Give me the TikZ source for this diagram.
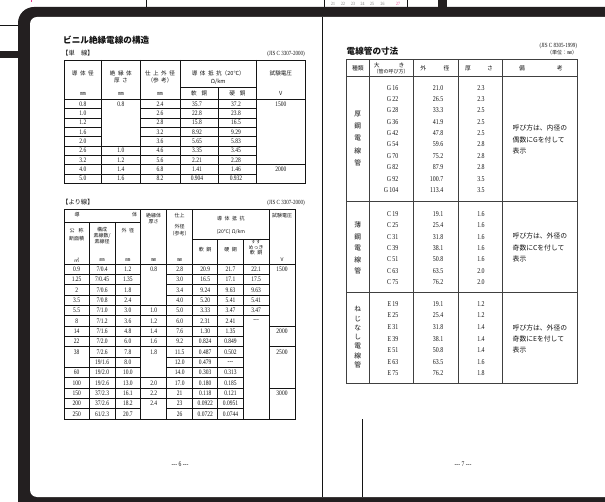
\documentclass[tikz,border=0pt]{standalone}
\usepackage{fontspec}
\setmainfont{Liberation Serif}
\newfontfamily\numf[FakeStretch=0.8]{Liberation Serif}
\newfontfamily\jp{Noto Sans CJK JP}
\definecolor{ink}{gray}{0.08}
\definecolor{framec}{HTML}{231F20}
\definecolor{pinkc}{HTML}{E8388F}
\newcommand\jg{\hspace{2.5pt}}
\tikzset{
  tline/.style={line width=0.65pt, draw=ink},
  rline/.style={line width=0.9pt, draw=black!75},
  rthick/.style={line width=1.4pt, draw=black!75},
  num/.style={font={\numf\fontsize{6.9}{7}\selectfont}, inner sep=0pt, text=ink},
  jh/.style={font={\jp\fontsize{5.6}{6}\selectfont}, inner sep=0pt, text=ink},
  jhs/.style={font={\jp\fontsize{5}{5}\selectfont}, inner sep=0pt, text=ink},
  ttl/.style={font={\jp\bfseries\fontsize{8.6}{9}\selectfont}, inner sep=0pt, text=ink},
  lab/.style={font={\jp\fontsize{6.3}{7}\selectfont}, inner sep=0pt, text=ink},
  jis/.style={font={\numf\fontsize{6.3}{6}\selectfont}, inner sep=0pt, text=ink},
  rnum/.style={font={\numf\fontsize{7.4}{8}\selectfont}, inner sep=0pt, text=ink},
  rjp/.style={font={\jp\fontsize{6.8}{8}\selectfont}, inner sep=0pt, text=ink},
  rjh/.style={font={\jp\fontsize{5.8}{6}\selectfont}, inner sep=0pt, text=ink},
  topnum/.style={font={\numf\fontsize{4.8}{5}\selectfont}, inner sep=0pt, text=black!55},
  pgnum/.style={font={\numf\fontsize{7}{8}\selectfont}, inner sep=0pt, text=ink},
}
\begin{document}
\begin{tikzpicture}[x=1pt,y=-1pt]
\useasboundingbox (0,0) rectangle (605,502);
\clip (0,0) rectangle (605,502);
\fill[white] (0,0) rectangle (605,502);
% ---- frame
\fill[framec, rounded corners=16pt] (18,540) -- (18,7) -- (640,7) -- (640,540) -- cycle;
\fill[white, rounded corners=7pt] (30,497) -- (30,17) -- (640,17) -- (640,497) -- cycle;
% ---- top strip and margin marks
\draw[ink, line width=0.5pt] (146,0) -- (146,7);
\draw[ink, line width=0.5pt] (324,0) -- (324,7);
\draw[ink, line width=0.5pt] (407,0) -- (407,7);
\fill[framec] (438,0) rectangle (447,8);
\draw[ink, line width=0.5pt] (0,25) -- (18,25);
\fill[framec] (0,51) rectangle (18,58);
\draw[pinkc, line width=1pt] (31,0) -- (31,2.5);
\foreach \n/\x in {21/333,22/343,23/353,24/362.5,25/372,26/382.5}
  \node[topnum] (tn\n) at (\x,3.5) {\n};
\node[topnum, text=pinkc] (tn27) at (398,3.5) {27};
% ---- page dividers
\draw[ink, line width=0.8pt] (322,17) -- (322,497);
\draw[ink, line width=0.8pt] (362,419) -- (362,497);
% ---- page numbers
\node[pgnum] (pg6) at (180,464) {--- 6 ---};
\node[pgnum] (pg7) at (463,464) {--- 7 ---};

% =============== LEFT PAGE ===============
\node[ttl, anchor=west] (t1title) at (63,40.5) {ビニル絶縁電線の構造};
\node[lab, anchor=west] (t1lab) at (62,53) {【単　線】};
\node[jis, anchor=east] (t1jis) at (305,53.5) {(JIS C 3307-2000)};
% table 1 lines
\draw[tline] (64,60) rectangle (305,183.2);
\foreach \x in {101.7,140,180,256.7} \draw[tline] (\x,60) -- (\x,183.2);
\draw[tline] (218.3,87.5) -- (218.3,183.2);
\draw[tline] (180,87.5) -- (256.7,87.5);
\draw[tline, line width=0.9pt] (64,99.5) -- (305,99.5);
\foreach \k in {1,...,8} {
  \draw[tline] (64,{99.5+\k*9.3}) -- (101.7,{99.5+\k*9.3});
  \draw[tline] (140,{99.5+\k*9.3}) -- (256.7,{99.5+\k*9.3});
}
\foreach \k in {5,...,8} \draw[tline] (101.7,{99.5+\k*9.3}) -- (140,{99.5+\k*9.3});
\draw[tline] (256.7,{99.5+7*9.3}) -- (305,{99.5+7*9.3});
% table 1 header
\node[jh] (h1a) at (82.85,73.3) {導\jg 体\jg 径};
\node[jh] (h1b) at (82.85,93.5) {㎜};
\node[jh] (h2a) at (120.85,73.3) {絶\jg 縁\jg 体};
\node[jh] (h2b) at (120.85,80.3) {厚\jg さ};
\node[jh] (h2c) at (120.85,93.5) {㎜};
\node[jh] (h3a) at (160,73.3) {仕\jg 上\jg 外\jg 径};
\node[jh] (h3b) at (160,80.3) {（参\jg 考）};
\node[jh] (h3c) at (160,93.5) {㎜};
\node[jh] (h4a) at (218.3,73.3) {導\jg 体\jg 抵\jg 抗（20℃）};
\node[jh] (h4b) at (218.3,81.5) {Ω/km};
\node[jh] (h4c) at (199.2,93.5) {軟\hspace{5pt}銅};
\node[jh] (h5c) at (237.5,93.5) {硬\hspace{5pt}銅};
\node[jh] (h6a) at (280.85,73.3) {試験電圧};
\node[jh] (h6b) at (280.85,93.5) {V};
% table 1 data
\foreach \v [count=\r] in {0.8,1.0,1.2,1.6,2.0,2.6,3.2,4.0,5.0}
  \node[num] (a1-\r) at (82.85,{99.5+(\r-0.5)*9.3}) {\v};
\foreach \v [count=\r] in {2.4,2.6,2.8,3.2,3.6,4.6,5.6,6.8,8.2}
  \node[num] (a3-\r) at (160,{99.5+(\r-0.5)*9.3}) {\v};
\foreach \v [count=\r] in {35.7,22.8,15.8,8.92,5.65,3.35,2.21,1.41,0.904}
  \node[num] (a4-\r) at (197,{99.5+(\r-0.5)*9.3}) {\v};
\foreach \v [count=\r] in {37.2,23.8,16.5,9.29,5.83,3.45,2.28,1.46,0.932}
  \node[num] (a5-\r) at (236,{99.5+(\r-0.5)*9.3}) {\v};
\foreach \v/\r in {0.8/1,1.0/6,1.2/7,1.4/8,1.6/9}
  \node[num] (a2-\r) at (120.85,{99.5+(\r-0.5)*9.3}) {\v};
\node[num] (a6-1) at (280.85,{99.5+0.5*9.3}) {1500};
\node[num] (a6-8) at (280.85,{99.5+7.5*9.3}) {2000};

% table 2
\node[lab, anchor=west] (t2lab) at (62,202) {【より線】};
\node[jis, anchor=east] (t2jis) at (305,202.5) {(JIS C 3307-2000)};
\draw[tline] (64,209.5) rectangle (295,419);
\draw[tline] (64,222) -- (140.7,222);
\draw[tline] (192.7,239.5) -- (269,239.5);
\draw[tline, line width=0.9pt] (64,264) -- (295,264);
\foreach \x in {89.3,115} \draw[tline] (\x,222) -- (\x,419);
\foreach \x in {140.7,166.7,192.7,269} \draw[tline] (\x,209.5) -- (\x,419);
\foreach \x in {217.7,243.3} \draw[tline] (\x,239.5) -- (\x,419);
\foreach \k in {1,...,14} {
  \draw[tline] (89.3,{264+\k*10.333}) -- (140.7,{264+\k*10.333});
  \draw[tline] (166.7,{264+\k*10.333}) -- (243.3,{264+\k*10.333});
}
\foreach \k in {1,...,8,10,11,12,13,14} \draw[tline] (64,{264+\k*10.333}) -- (89.3,{264+\k*10.333});
\foreach \k in {4,5,6,7,8,11,12,13} \draw[tline] (140.7,{264+\k*10.333}) -- (166.7,{264+\k*10.333});
\foreach \k in {1,...,5} \draw[tline] (243.3,{264+\k*10.333}) -- (269,{264+\k*10.333});
\foreach \k in {6,8,12} \draw[tline] (269,{264+\k*10.333}) -- (295,{264+\k*10.333});
% table 2 header
\node[jhs] (b0a) at (77,215) {導};
\node[jhs] (b0b) at (134.5,215) {体};
\node[jhs] (b1a) at (76.65,230.5) {公\hspace{4pt}称};
\node[jhs] (b1b) at (76.65,238.5) {断面積};
\node[jhs] (b1c) at (76.65,260) {㎡};
\node[jhs] (b2a) at (102.15,229.5) {構成};
\node[jhs] (b2b) at (102.15,235.5) {素線数/};
\node[jhs] (b2c) at (102.15,241.5) {素線径};
\node[jhs] (b2d) at (102.15,260) {㎜};
\node[jhs] (b3a) at (127.85,230.5) {外\jg 径};
\node[jhs] (b3b) at (127.85,260) {㎜};
\node[jhs] (b4a) at (153.7,215.5) {絶縁体};
\node[jhs] (b4b) at (153.7,221.5) {厚さ};
\node[jhs] (b4c) at (153.7,260) {㎜};
\node[jhs] (b5a) at (179.7,215.5) {仕上};
\node[jhs] (b5b) at (179.7,227) {外径};
\node[jhs] (b5c) at (179.7,233.3) {（参考）};
\node[jhs] (b5d) at (179.7,260) {㎜};
\node[jhs] (b6a) at (230.85,218.3) {導\jg 体\jg 抵\jg 抗};
\node[jhs] (b6b) at (230.85,231.5) {(20℃) Ω/km};
\node[jhs] (b6c) at (205.2,250) {軟\jg 銅};
\node[jhs] (b7c) at (230.5,250) {硬\jg 銅};
\node[jhs] (b8a) at (256.15,242) {すず};
\node[jhs] (b8b) at (256.15,247.3) {めっき};
\node[jhs] (b8c) at (256.15,252.7) {軟\jg 銅};
\node[jhs] (b9a) at (282,216) {試験電圧};
\node[jhs] (b9b) at (282,260) {V};
% table 2 data
\foreach \v [count=\r] in {0.9,1.25,2,3.5,5.5,8,14,22,38}
  \node[num] (c1-\r) at (76.65,{264+(\r-0.5)*10.333}) {\v};
\foreach \v/\r in {60/11,100/12,150/13,200/14,250/15}
  \node[num] (c1-\r) at (76.65,{264+(\r-0.5)*10.333}) {\v};
\foreach \v [count=\r] in {{7/0.4},{7/0.45},{7/0.6},{7/0.8},{7/1.0},{7/1.2},{7/1.6},{7/2.0},{7/2.6},{19/1.6},{19/2.0},{19/2.6},{37/2.3},{37/2.6},{61/2.3}}
  \node[num] (c2-\r) at (102.15,{264+(\r-0.5)*10.333}) {\v};
\foreach \v [count=\r] in {1.2,1.35,1.8,2.4,3.0,3.6,4.8,6.0,7.8,8.0,10.0,13.0,16.1,18.2,20.7}
  \node[num] (c3-\r) at (127.85,{264+(\r-0.5)*10.333}) {\v};
\foreach \v/\r in {0.8/1,1.0/5,1.2/6,1.4/7,1.6/8,1.8/9,2.0/12,2.2/13,2.4/14}
  \node[num] (c4-\r) at (153.7,{264+(\r-0.5)*10.333}) {\v};
\foreach \v [count=\r] in {2.8,3.0,3.4,4.0,5.0,6.0,7.6,9.2,11.5,12.0,14.0,17.0,21,23,26}
  \node[num] (c5-\r) at (179.7,{264+(\r-0.5)*10.333}) {\v};
\foreach \v [count=\r] in {20.9,16.5,9.24,5.20,3.33,2.31,1.30,0.824,0.487,0.479,0.303,0.180,0.118,0.0922,0.0722}
  \node[num] (c6-\r) at (205.2,{264+(\r-0.5)*10.333}) {\v};
\foreach \v [count=\r] in {21.7,17.1,9.63,5.41,3.47,2.41,1.35,0.849,0.502,---,0.313,0.185,0.121,0.0951,0.0744}
  \node[num] (c7-\r) at (230.5,{264+(\r-0.5)*10.333}) {\v};
\foreach \v [count=\r] in {22.1,17.5,9.63,5.41,3.47,---}
  \node[num] (c8-\r) at (256.15,{264+(\r-0.5)*10.333}) {\v};
\foreach \v/\r in {1500/1,2000/7,2500/9,3000/13}
  \node[num] (c9-\r) at (282,{264+(\r-0.5)*10.333}) {\v};

% =============== RIGHT PAGE ===============
\node[ttl, anchor=west] (rtitle) at (346.5,51) {電線管の寸法};
\node[jis, anchor=east] (rjis) at (577.3,46) {(JIS C 8305-1999)};
\node[jhs, anchor=east] (runit) at (577.3,52.8) {（単位：㎜）};
\draw[rline] (369,59.3) -- (369,383.3);
\draw[rline] (413.3,59.3) -- (413.3,383.3);
\draw[rline] (458.3,59.3) -- (458.3,383.3);
\draw[rline] (502.7,59.3) -- (502.7,383.3);
\draw[rthick] (346.7,76.7) -- (577.3,76.7);
\draw[rthick] (346.7,201.7) -- (577.3,201.7);
\draw[rthick] (346.7,292.7) -- (577.3,292.7);
\draw[rthick] (346.7,59.3) rectangle (577.3,383.3);
% header
\node[rjh] (rh1) at (357.8,68.3) {種類};
\node[rjh] (rh2a) at (389.2,65.3) {大\hspace{19pt}き};
\node[jhs] (rh2b) at (391,71.5) {（管の呼び方）};
\node[rjh] (rh3) at (434.8,68.3) {外\hspace{17.5pt}径};
\node[rjh] (rh4) at (479,68.3) {厚\hspace{16pt}さ};
\node[rjh] (rh5) at (540.8,68.3) {備\hspace{32pt}考};
% group 1
\foreach \g/\o/\t [count=\r] in {16/21.0/2.3,22/26.5/2.3,28/33.3/2.5,36/41.9/2.5,42/47.8/2.5,54/59.6/2.8,70/75.2/2.8,82/87.9/2.8,92/100.7/3.5,104/113.4/3.5} {
  \node[rnum, anchor=east] (gg\r) at (398.5,{87.7+(\r-1)*11.37}) {G\,\g};
  \node[rnum, anchor=east] (go\r) at (443.5,{87.7+(\r-1)*11.37}) {\o};
  \node[rnum] (gt\r) at (481,{87.7+(\r-1)*11.37}) {\t};
}
\foreach \c [count=\i] in {厚,鋼,電,線,管}
  \node[rjp] (gv\i) at (357.8,{114.3+(\i-1)*12.1}) {\c};
\node[rjp, anchor=west] (gn1) at (512.5,128.3) {呼び方は、内径の};
\node[rjp, anchor=west] (gn2) at (512.5,139.5) {偶数にGを付して};
\node[rjp, anchor=west] (gn3) at (512.5,150.7) {表示};
% group 2
\foreach \g/\o/\t [count=\r] in {19/19.1/1.6,25/25.4/1.6,31/31.8/1.6,39/38.1/1.6,51/50.8/1.6,63/63.5/2.0,75/76.2/2.0} {
  \node[rnum, anchor=east] (cg\r) at (398.5,{214+(\r-1)*11.38}) {C\,\g};
  \node[rnum, anchor=east] (co\r) at (443.5,{214+(\r-1)*11.38}) {\o};
  \node[rnum] (ct\r) at (481,{214+(\r-1)*11.38}) {\t};
}
\foreach \c [count=\i] in {薄,鋼,電,線,管}
  \node[rjp] (cv\i) at (357.8,{225+(\i-1)*11.6}) {\c};
\node[rjp, anchor=west] (cn1) at (512.5,236) {呼び方は、外径の};
\node[rjp, anchor=west] (cn2) at (512.5,247.5) {奇数にCを付して};
\node[rjp, anchor=west] (cn3) at (512.5,259) {表示};
% group 3
\foreach \g/\o/\t [count=\r] in {19/19.1/1.2,25/25.4/1.2,31/31.8/1.4,39/38.1/1.4,51/50.8/1.4,63/63.5/1.6,75/76.2/1.8} {
  \node[rnum, anchor=east] (eg\r) at (398.5,{304+(\r-1)*11.55}) {E\,\g};
  \node[rnum, anchor=east] (eo\r) at (443.5,{304+(\r-1)*11.55}) {\o};
  \node[rnum] (et\r) at (481,{304+(\r-1)*11.55}) {\t};
}
\foreach \c [count=\i] in {ね,じ,な,し,電,線,管}
  \node[rjp] (ev\i) at (357.8,{309.3+(\i-1)*9.3}) {\c};
\node[rjp, anchor=west] (en1) at (512.5,327.7) {呼び方は、外径の};
\node[rjp, anchor=west] (en2) at (512.5,339) {奇数にEを付して};
\node[rjp, anchor=west] (en3) at (512.5,350.3) {表示};
\end{tikzpicture}
\end{document}
